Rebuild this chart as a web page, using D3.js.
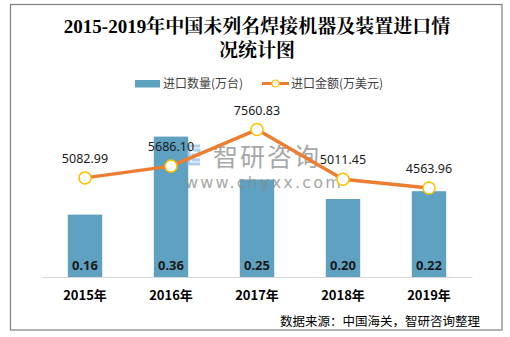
<!DOCTYPE html>
<html>
<head>
<meta charset="utf-8">
<script src="https://cdn.jsdelivr.net/npm/d3@7"></script>
<style>
  html, body { margin: 0; padding: 0; background: #fff; }
  svg { display: block; }
</style>
</head>
<body>
<svg id="chart" width="510" height="337"></svg>
<script>
// Import data, 2015–2019
const years = ["2015年", "2016年", "2017年", "2018年", "2019年"];
const quantity = [0.16, 0.36, 0.25, 0.20, 0.22];          // 进口数量(万台)
const amount = [5082.99, 5686.10, 7560.83, 5011.45, 4563.96]; // 进口金额(万美元)
const seriesNames = ["进口数量(万台)", "进口金额(万美元)"];
const titleLines = ["2015-2019年中国未列名焊接机器及装置进口情", "况统计图"];
const sourceText = "数据来源：中国海关，智研咨询整理";
const brandText = ["智研咨询", "www.chyxx.com"];

const svg = d3.select("#chart");
const sansCJK = "'Microsoft YaHei', 'Noto Sans CJK SC', sans-serif";
const numFont = "'Noto Sans', 'Open Sans', sans-serif";
const titleFont = "'Liberation Serif', 'Noto Serif CJK SC', 'Noto Sans CJK SC', serif";

// outer frame
svg.append("rect")
  .attr("x", 10.5).attr("y", 4.5)
  .attr("width", 491.5).attr("height", 325.5)
  .attr("fill", "#fff").attr("stroke", "#7f7f7f").attr("stroke-width", 1.2);

// title
svg.append("g").selectAll("text").data(titleLines).join("text")
  .attr("x", 257).attr("y", (d, i) => 33 + i * 24)
  .attr("text-anchor", "middle")
  .attr("font-family", titleFont)
  .attr("font-weight", "bold")
  .attr("font-size", 19)
  .attr("fill", "#000")
  .text(d => d);

// scales
const plot = { left: 42, right: 472, top: 121, bottom: 277 };
const x = d3.scaleBand().domain(years).range([plot.left, plot.right]).paddingInner(0.6).paddingOuter(0.3);
const yQ = d3.scaleLinear().domain([0, 0.4]).range([plot.bottom, plot.top]);
const yA = d3.scaleLinear().domain([0, 8000]).range([plot.bottom, plot.top]);

const barColor = "#5fa1c1";
const lineColor = "#ed7d31";
const markerStroke = "#ffc000";

// legend
const legend = svg.append("g").attr("font-family", sansCJK).attr("font-size", 12).attr("fill", "#404040");
legend.append("rect").attr("x", 135).attr("y", 80).attr("width", 25).attr("height", 7.5).attr("fill", barColor);
legend.append("text").attr("x", 163).attr("y", 88).text(seriesNames[0]);
legend.append("line").attr("x1", 262).attr("x2", 289).attr("y1", 83.5).attr("y2", 83.5)
  .attr("stroke", lineColor).attr("stroke-width", 3);
legend.append("circle").attr("cx", 275.5).attr("cy", 83.5).attr("r", 3.5)
  .attr("fill", "#fff").attr("stroke", markerStroke).attr("stroke-width", 1.2);
legend.append("text").attr("x", 291).attr("y", 88).text(seriesNames[1]);

// bars
svg.append("g").selectAll("rect").data(quantity).join("rect")
  .attr("x", (d, i) => x(years[i]))
  .attr("y", d => yQ(d))
  .attr("width", x.bandwidth())
  .attr("height", d => yQ(0) - yQ(d))
  .attr("fill", barColor);

// x axis
const xAxis = svg.append("g").attr("transform", `translate(0,${plot.bottom})`)
  .call(d3.axisBottom(x).tickSize(0).tickPadding(14));
xAxis.select(".domain").attr("stroke", "#d9d9d9").attr("stroke-width", 1.2);
xAxis.selectAll("text")
  .attr("font-family", sansCJK)
  .attr("font-weight", "bold").attr("font-size", 13).attr("fill", "#000");

// brand mark (semi-transparent, sits between bars and line)
const wm = svg.append("g").attr("opacity", 0.75);
const logo = wm.append("g").attr("fill", "none").attr("stroke", "#8fbfe6").attr("stroke-width", 3);
logo.append("path").attr("d", "M200,146 L189,146 L189,164 L200,164");
logo.append("path").attr("d", "M193,150 L199,150 L199,155 L193,155 L193,160 L200,160");
wm.append("text").attr("x", 213).attr("y", 166)
  .attr("font-family", sansCJK).attr("font-size", 25).attr("fill", "#8a8a8a")
  .attr("letter-spacing", 2).text(brandText[0]);
wm.append("text").attr("x", 185).attr("y", 188)
  .attr("font-family", "'DejaVu Sans', sans-serif").attr("font-size", 16).attr("fill", "#8a8a8a")
  .attr("letter-spacing", 2.2).text(brandText[1]);

// bar value labels
svg.append("g").selectAll("text").data(quantity).join("text")
  .attr("x", (d, i) => x(years[i]) + x.bandwidth() / 2)
  .attr("y", plot.bottom - 7)
  .attr("text-anchor", "middle")
  .attr("font-family", numFont)
  .attr("font-weight", "bold").attr("font-size", 13).attr("fill", "#1a1a1a")
  .text(d => d.toFixed(2));

// amount line
const cx = (d, i) => x(years[i]) + x.bandwidth() / 2;
const line = d3.line().x(cx).y(d => yA(d));
svg.append("path").datum(amount)
  .attr("d", line).attr("fill", "none")
  .attr("stroke", lineColor).attr("stroke-width", 3.5).attr("stroke-linejoin", "round");
svg.append("g").selectAll("circle").data(amount).join("circle")
  .attr("cx", cx).attr("cy", d => yA(d)).attr("r", 6)
  .attr("fill", "#fff").attr("stroke", markerStroke).attr("stroke-width", 1.5);

// amount labels
svg.append("g").selectAll("text").data(amount).join("text")
  .attr("x", cx).attr("y", d => yA(d) - 15)
  .attr("text-anchor", "middle")
  .attr("font-family", numFont).attr("font-size", 12.5).attr("fill", "#1a1a1a")
  .text(d => d.toFixed(2));

// source note
svg.append("text").attr("x", 480).attr("y", 326)
  .attr("text-anchor", "end")
  .attr("font-family", sansCJK).attr("font-size", 12.5).attr("fill", "#000")
  .text(sourceText);
</script>
</body>
</html>
